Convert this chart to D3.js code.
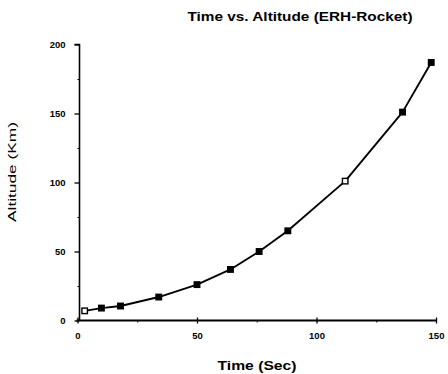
<!DOCTYPE html>
<html>
<head>
<meta charset="utf-8">
<script src="https://cdn.jsdelivr.net/npm/d3@7"></script>
<style>
  html, body { margin: 0; padding: 0; background: #fff; }
  svg { display: block; }
  text { font-family: "Liberation Sans", Arial, Helvetica, sans-serif; fill: #000; }
</style>
</head>
<body>
<svg id="chart" width="448" height="374"></svg>
<script>
// Data
const timeSec   = [3, 10, 18, 34, 50, 64, 76, 88, 112, 136, 148];
const altitudeKm = [7, 9, 10.5, 17, 26, 37, 50, 65, 101, 151, 187];
const openMarker = [true, false, false, false, false, false, false, false, true, false, false];
const xTicks = [0, 50, 100, 150];
const yTicks = [0, 50, 100, 150, 200];
const xMinorTicks = [25, 75, 125];
const yMinorTicks = [25, 75, 125, 175];
const titleText = "Time vs. Altitude (ERH-Rocket)";
const xLabel = "Time (Sec)";
const yLabel = "Altitude (Km)";

const data = timeSec.map((t, i) => ({ t, a: altitudeKm[i], open: openMarker[i] }));

const svg = d3.select("#chart");
const x = d3.scaleLinear().domain([0, 150]).range([77.5, 436]);
const y = d3.scaleLinear().domain([0, 200]).range([320.5, 44.5]);

// Title
svg.append("text")
  .attr("x", 300).attr("y", 21)
  .attr("text-anchor", "middle")
  .attr("font-size", 13).attr("font-weight", "bold")
  .attr("textLength", 225).attr("lengthAdjust", "spacingAndGlyphs")
  .text(titleText);

// Y axis
const yAxis = d3.axisLeft(y).tickValues(yTicks).tickSize(5).tickPadding(9);
const yg = svg.append("g").attr("transform", "translate(79.5,0)").call(yAxis);
yg.select(".domain").attr("stroke-width", 1.6).attr("d", `M0,${y(0)}V${y(200)}H-5`);
yg.selectAll(".tick line").attr("stroke-width", 1.3);
yg.selectAll(".tick text").attr("font-size", 9.5).attr("font-weight", "bold")
  .attr("font-family", "Liberation Sans, Arial, sans-serif");
const yMinor = d3.axisLeft(y).tickValues(yMinorTicks).tickSize(2).tickFormat("");
const ygm = svg.append("g").attr("transform", "translate(79.5,0)").call(yMinor);
ygm.select(".domain").remove();

// X axis
const xAxis = d3.axisBottom(x).tickValues(xTicks).tickSize(3).tickPadding(9);
const xg = svg.append("g").attr("transform", `translate(0,${y(0)})`).call(xAxis);
xg.select(".domain").attr("stroke-width", 1.8).attr("d", `M${x(0) - 1},0H${x(150)}`);
xg.selectAll(".tick line").attr("stroke-width", 1.3).attr("y1", -3);
xg.selectAll(".tick text").attr("font-size", 9.5).attr("font-weight", "bold")
  .attr("font-family", "Liberation Sans, Arial, sans-serif");
const xMinor = d3.axisBottom(x).tickValues(xMinorTicks).tickSize(2).tickFormat("");
const xgm = svg.append("g").attr("transform", `translate(0,${y(0)})`).call(xMinor);
xgm.select(".domain").remove();

// Axis labels
svg.append("text")
  .attr("x", 257).attr("y", 370)
  .attr("text-anchor", "middle")
  .attr("font-size", 13).attr("font-weight", "bold")
  .attr("textLength", 79).attr("lengthAdjust", "spacingAndGlyphs")
  .text(xLabel);

svg.append("text")
  .attr("transform", "translate(16,172) rotate(-90)")
  .attr("text-anchor", "middle")
  .attr("font-size", 11)
  .attr("textLength", 100).attr("lengthAdjust", "spacingAndGlyphs")
  .text(yLabel);

// Line
const line = d3.line().x(d => x(d.t)).y(d => y(d.a));
svg.append("path")
  .datum(data)
  .attr("fill", "none")
  .attr("stroke", "#000")
  .attr("stroke-width", 1.9)
  .attr("stroke-linejoin", "round")
  .attr("d", line);

// Markers
const s = 5.5;
svg.selectAll("rect.pt")
  .data(data)
  .enter().append("rect")
  .attr("class", "pt")
  .attr("x", d => x(d.t) - s / 2)
  .attr("y", d => y(d.a) - s / 2)
  .attr("width", s).attr("height", s)
  .attr("fill", d => d.open ? "#fff" : "#000")
  .attr("stroke", "#000")
  .attr("stroke-width", 1.4);
</script>
</body>
</html>
